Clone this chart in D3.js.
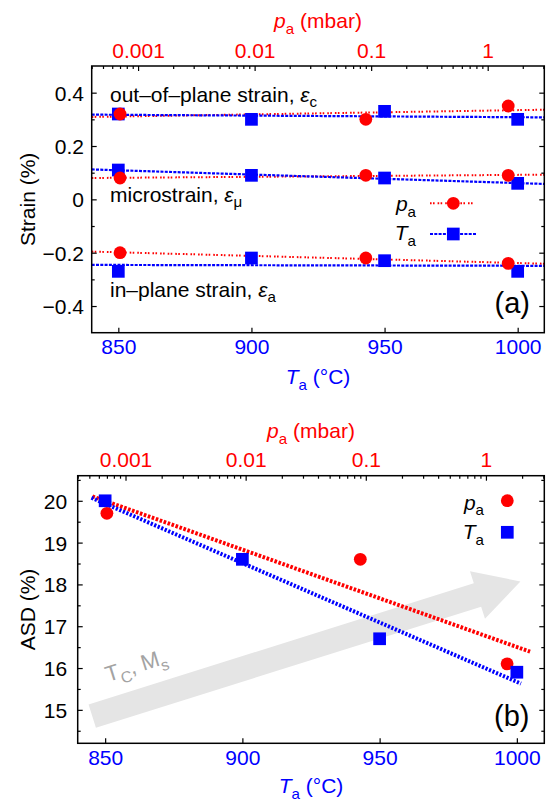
<!DOCTYPE html>
<html>
<head>
<meta charset="utf-8">
<script src="https://cdn.jsdelivr.net/npm/d3@7"></script>
<style>
  body { margin: 0; background: #fff; }
  svg { display: block; }
  text { font-family: "Liberation Sans", Arial, Helvetica, sans-serif; }
</style>
</head>
<body>
<svg id="chart" width="554" height="801"></svg>
<script>
// ---- tick values and labels ----
const tempTicks = [850, 900, 950, 1000];
const tempTickLabels = ["850", "900", "950", "1000"];
const pressTicks = [0.001, 0.01, 0.1, 1];
const pressTickLabels = ["0.001", "0.01", "0.1", "1"];
const strainTicks = [-0.4, -0.2, 0, 0.2, 0.4];
const strainTickLabels = ["\u22120.4", "\u22120.2", "0", "0.2", "0.4"];
const asdTicks = [15, 16, 17, 18, 19, 20];

// ---- axis ranges ----
const tempDomain = [840, 1010];          // °C
const pressDomain = [4.0e-4, 3.06];      // mbar (log)
const strainDomain = [-0.5, 0.5];        // %
const asdDomain = [14.2, 20.6];          // %

// ---- annealing series ----
const annealTemp = [850, 900, 950, 1000];   // T_a series, °C
const annealPress = [0.0007, 0.09, 1.5];    // p_a series, mbar

// strain (%) vs T_a and vs p_a
const outPlaneT = [0.32, 0.30, 0.33, 0.30];
const outPlaneP = [0.32, 0.30, 0.35];
const microT = [0.11, 0.09, 0.08, 0.06];
const microP = [0.08, 0.09, 0.09];
const inPlaneT = [-0.27, -0.22, -0.23, -0.27];
const inPlaneP = [-0.20, -0.22, -0.24];

// antisite disorder (%) vs T_a and vs p_a
const asdT = [20.0, 18.6, 16.7, 15.9];
const asdP = [19.7, 18.6, 16.1];

// span of the ASD trend lines
const tempFitRange = [845, 1001.5];
const pressFitRange = [5.3e-4, 2.33];

// trend arrow for T_C and M_s (temperature, ASD)
const arrowFrom = [845.3, 14.85];
const arrowTo = [1001.3, 18.07];

const RED = "#ff0000", BLUE = "#0000ff";
const svg = d3.select("#chart");
svg.append("rect").attr("width", 554).attr("height", 801).attr("fill", "#fff");

// least-squares straight line
function linFit(xs, ys) {
  const mx = d3.mean(xs), my = d3.mean(ys);
  let sxy = 0, sxx = 0;
  xs.forEach((x, i) => { sxy += (x - mx) * (ys[i] - my); sxx += (x - mx) * (x - mx); });
  const b = sxy / sxx;
  return x => my + b * (x - mx);
}
const log10 = Math.log10;

// text with italic parts and subscripts
function rich(g, parts, o) {
  const t = g.append("text")
    .attr("x", o.x || 0).attr("y", o.y || 0)
    .attr("font-size", o.size).attr("fill", o.fill || "#000");
  if (o.anchor) t.attr("text-anchor", o.anchor);
  if (o.transform) t.attr("transform", o.transform);
  let shift = 0;
  parts.forEach(p => {
    const s = t.append("tspan").text(p.t);
    const target = p.sub ? o.size * 0.28 : 0;
    if (target !== shift) { s.attr("dy", target - shift); shift = target; }
    if (p.sub) s.attr("font-size", o.size * 0.72);
    if (p.it) s.attr("font-style", "italic");
  });
  return t;
}

const FS = 21;

function styleAxis(g, color, size) {
  g.select(".domain").remove();
  g.selectAll(".tick line").attr("stroke", "#000").attr("stroke-width", 1.2);
  g.selectAll(".tick text").attr("fill", color).attr("font-size", size)
    .attr("font-family", "\"Liberation Sans\", Arial, Helvetica, sans-serif");
  g.attr("font-family", null).attr("font-size", null);
}

function frameAxes(panel, box, x, xTop, y, yTicks, yLabels, yMinor, yPad) {
  const { l, r, t, b } = box;
  // bottom: temperature
  const gb = panel.append("g").attr("transform", `translate(0,${b})`)
    .call(d3.axisBottom(x).tickValues(tempTicks).tickFormat((d, i) => tempTickLabels[i])
      .tickSize(-5).tickPadding(6.5));
  styleAxis(gb, BLUE, FS);
  // top: pressure, log scale with minor ticks
  const gt = panel.append("g").attr("transform", `translate(0,${t})`)
    .call(d3.axisTop(xTop).tickValues(pressTicks)
      .tickFormat((d, i) => pressTickLabels[i]).tickSize(-5).tickPadding(8.5));
  styleAxis(gt, RED, FS);
  const minorP = xTop.ticks().filter(v => !pressTicks.some(m => Math.abs(m - v) / m < 1e-6));
  const gtm = panel.append("g").attr("transform", `translate(0,${t})`)
    .call(d3.axisTop(xTop).tickValues(minorP).tickFormat("").tickSize(-3));
  styleAxis(gtm, RED, FS);
  // left / right: value
  const gl = panel.append("g").attr("transform", `translate(${l},0)`)
    .call(d3.axisLeft(y).tickValues(yTicks).tickFormat((d, i) => yLabels[i])
      .tickSize(-5).tickPadding(yPad));
  styleAxis(gl, "#000", FS);
  gl.selectAll(".tick text").attr("dy", "0.36em");
  const glm = panel.append("g").attr("transform", `translate(${l},0)`)
    .call(d3.axisLeft(y).tickValues(yMinor).tickFormat("").tickSize(-3));
  styleAxis(glm, "#000", FS);
  const gr = panel.append("g").attr("transform", `translate(${r},0)`)
    .call(d3.axisRight(y).tickValues(yTicks).tickFormat("").tickSize(-5));
  styleAxis(gr, "#000", FS);
  const grm = panel.append("g").attr("transform", `translate(${r},0)`)
    .call(d3.axisRight(y).tickValues(yMinor).tickFormat("").tickSize(-3));
  styleAxis(grm, "#000", FS);
  // frame
  panel.append("rect").attr("x", l).attr("y", t).attr("width", r - l).attr("height", b - t)
    .attr("fill", "none").attr("stroke", "#000").attr("stroke-width", 1.5);
}

function circles(g, xs, ys, x, y, r) {
  g.selectAll(null).data(xs).enter().append("circle")
    .attr("cx", d => x(d)).attr("cy", (d, i) => y(ys[i])).attr("r", r).attr("fill", RED);
}
function squares(g, xs, ys, x, y, s) {
  g.selectAll(null).data(xs).enter().append("rect")
    .attr("x", d => x(d) - s / 2).attr("y", (d, i) => y(ys[i]) - s / 2)
    .attr("width", s).attr("height", s).attr("fill", BLUE);
}

// =================== panel (a): strain ===================
const boxA = { l: 91.7, r: 544.3, t: 66, b: 332.7 };
const xA = d3.scaleLinear().domain(tempDomain).range([boxA.l, boxA.r]);
const pA = d3.scaleLog().domain(pressDomain).range([boxA.l, boxA.r]);
const yA = d3.scaleLinear().domain(strainDomain).range([boxA.b, boxA.t]);
const panelA = svg.append("g");

svg.append("clipPath").attr("id", "clipA").append("rect")
  .attr("x", boxA.l).attr("y", boxA.t).attr("width", boxA.r - boxA.l).attr("height", boxA.b - boxA.t);

const linesA = panelA.append("g").attr("clip-path", "url(#clipA)");
const seriesA = [
  { t: outPlaneT, p: outPlaneP },
  { t: microT, p: microP },
  { t: inPlaneT, p: inPlaneP }
];
const dotA = "1.6,1.4,1.6,3";
const dashA = "3,1.3";
seriesA.forEach(s => {
  const fp = linFit(annealPress.map(log10), s.p);
  linesA.append("line")
    .attr("x1", pA(pressDomain[0])).attr("y1", yA(fp(log10(pressDomain[0]))))
    .attr("x2", pA(pressDomain[1])).attr("y2", yA(fp(log10(pressDomain[1]))))
    .attr("stroke", RED).attr("stroke-width", 2).attr("stroke-dasharray", dotA);
  const ft = linFit(annealTemp, s.t);
  linesA.append("line")
    .attr("x1", xA(tempDomain[0])).attr("y1", yA(ft(tempDomain[0])))
    .attr("x2", xA(tempDomain[1])).attr("y2", yA(ft(tempDomain[1])))
    .attr("stroke", BLUE).attr("stroke-width", 2.2).attr("stroke-dasharray", dashA);
});
seriesA.forEach(s => {
  squares(panelA, annealTemp, s.t, xA, yA, 12.7);
  circles(panelA, annealPress, s.p, pA, yA, 6.4);
});

frameAxes(panelA, boxA, xA, pA, yA, strainTicks, strainTickLabels,
  d3.range(-0.3, 0.31, 0.2).map(v => +v.toFixed(2)), 7.8);

// curve labels
rich(panelA, [{ t: "out\u2013of\u2013plane strain, " }, { t: "\u03b5", it: true }, { t: "c", sub: true }],
  { x: 110, y: 101.5, size: FS });
rich(panelA, [{ t: "microstrain, " }, { t: "\u03b5", it: true }, { t: "\u03bc", sub: true }],
  { x: 110, y: 201.5, size: FS });
rich(panelA, [{ t: "in\u2013plane strain, " }, { t: "\u03b5", it: true }, { t: "a", sub: true }],
  { x: 110, y: 296.5, size: FS });
panelA.append("text").attr("x", 530).attr("y", 313).attr("text-anchor", "end")
  .attr("font-size", 29).text("(a)");

// legend
rich(panelA, [{ t: "p", it: true }, { t: "a", sub: true }], { x: 416, y: 211, size: FS, anchor: "end" });
rich(panelA, [{ t: "T", it: true }, { t: "a", sub: true }], { x: 416, y: 240, size: FS, anchor: "end" });
panelA.append("line").attr("x1", 430).attr("x2", 474).attr("y1", 203.3).attr("y2", 203.3)
  .attr("stroke", RED).attr("stroke-width", 2).attr("stroke-dasharray", dotA);
panelA.append("circle").attr("cx", 453.3).attr("cy", 203.3).attr("r", 6.4).attr("fill", RED);
panelA.append("line").attr("x1", 430).attr("x2", 477).attr("y1", 234).attr("y2", 234)
  .attr("stroke", BLUE).attr("stroke-width", 2.2).attr("stroke-dasharray", dashA);
panelA.append("rect").attr("x", 453.3 - 6.35).attr("y", 234 - 6.35).attr("width", 12.7).attr("height", 12.7)
  .attr("fill", BLUE);

// axis titles
rich(panelA, [{ t: "p", it: true }, { t: "a", sub: true }, { t: " (mbar)" }],
  { x: (boxA.l + boxA.r) / 2, y: 28, size: FS, fill: RED, anchor: "middle" });
rich(panelA, [{ t: "T", it: true }, { t: "a", sub: true }, { t: " (\u00b0C)" }],
  { x: (boxA.l + boxA.r) / 2, y: 384, size: FS, fill: BLUE, anchor: "middle" });
rich(panelA, [{ t: "Strain (%)" }],
  { size: FS, anchor: "middle", transform: `translate(35,${(boxA.t + boxA.b) / 2}) rotate(-90)` });

// =================== panel (b): antisite disorder ===================
const boxB = { l: 77.7, r: 544.3, t: 475.7, b: 743.3 };
const xB = d3.scaleLinear().domain(tempDomain).range([boxB.l, boxB.r]);
const pB = d3.scaleLog().domain(pressDomain).range([boxB.l, boxB.r]);
const yB = d3.scaleLinear().domain(asdDomain).range([boxB.b, boxB.t]);
const panelB = svg.append("g");

// grey trend arrow
(function () {
  const x0 = xB(arrowFrom[0]), y0 = yB(arrowFrom[1]);
  const x1 = xB(arrowTo[0]), y1 = yB(arrowTo[1]);
  const len = Math.hypot(x1 - x0, y1 - y0);
  const ux = (x1 - x0) / len, uy = (y1 - y0) / len;
  const nx = -uy, ny = ux;
  const w = 24.5, hw = 50, hl = 45;
  const bx = x1 - ux * hl, by = y1 - uy * hl;
  const pts = [
    [x0 + nx * w / 2, y0 + ny * w / 2],
    [bx + nx * w / 2, by + ny * w / 2],
    [bx + nx * hw / 2, by + ny * hw / 2],
    [x1, y1],
    [bx - nx * hw / 2, by - ny * hw / 2],
    [bx - nx * w / 2, by - ny * w / 2],
    [x0 - nx * w / 2, y0 - ny * w / 2]
  ];
  panelB.append("polygon").attr("points", pts.map(p => p.join(",")).join(" ")).attr("fill", "#e5e5e5");
  const ang = Math.atan2(uy, ux) * 180 / Math.PI;
  rich(panelB, [{ t: "T" }, { t: "C", sub: true }, { t: ", M" }, { t: "s", sub: true }],
    { size: 22, fill: "#a3a3a3", transform: `translate(108,682) rotate(${ang})` });
})();

const fitBT = linFit(annealTemp, asdT);
const fitBP = linFit(annealPress.map(log10), asdP);
panelB.append("line")
  .attr("x1", pB(pressFitRange[0])).attr("y1", yB(fitBP(log10(pressFitRange[0]))))
  .attr("x2", pB(pressFitRange[1])).attr("y2", yB(fitBP(log10(pressFitRange[1]))))
  .attr("stroke", RED).attr("stroke-width", 4).attr("stroke-dasharray", "2.6,1.6");
panelB.append("line")
  .attr("x1", xB(tempFitRange[0])).attr("y1", yB(fitBT(tempFitRange[0])))
  .attr("x2", xB(tempFitRange[1])).attr("y2", yB(fitBT(tempFitRange[1])))
  .attr("stroke", BLUE).attr("stroke-width", 4).attr("stroke-dasharray", "2.2,1.6");

circles(panelB, annealPress, asdP, pB, yB, 6.4);
squares(panelB, annealTemp, asdT, xB, yB, 12.7);

frameAxes(panelB, boxB, xB, pB, yB, asdTicks, asdTicks.map(String),
  d3.range(14.5, 20.6, 1), 10.5);

panelB.append("text").attr("x", 529.5).attr("y", 726).attr("text-anchor", "end")
  .attr("font-size", 29).text("(b)");

// legend
rich(panelB, [{ t: "p", it: true }, { t: "a", sub: true }], { x: 484, y: 509.5, size: FS, anchor: "end" });
rich(panelB, [{ t: "T", it: true }, { t: "a", sub: true }], { x: 484, y: 539, size: FS, anchor: "end" });
panelB.append("circle").attr("cx", 507.3).attr("cy", 500.7).attr("r", 6.4).attr("fill", RED);
panelB.append("rect").attr("x", 507.3 - 6.35).attr("y", 532.3 - 6.35).attr("width", 12.7).attr("height", 12.7)
  .attr("fill", BLUE);

// axis titles
rich(panelB, [{ t: "p", it: true }, { t: "a", sub: true }, { t: " (mbar)" }],
  { x: (boxB.l + boxB.r) / 2, y: 438, size: FS, fill: RED, anchor: "middle" });
rich(panelB, [{ t: "T", it: true }, { t: "a", sub: true }, { t: " (\u00b0C)" }],
  { x: (boxB.l + boxB.r) / 2, y: 793, size: FS, fill: BLUE, anchor: "middle" });
rich(panelB, [{ t: "ASD (%)" }],
  { size: FS, anchor: "middle", transform: `translate(35,${(boxB.t + boxB.b) / 2}) rotate(-90)` });
</script>
</body>
</html>
